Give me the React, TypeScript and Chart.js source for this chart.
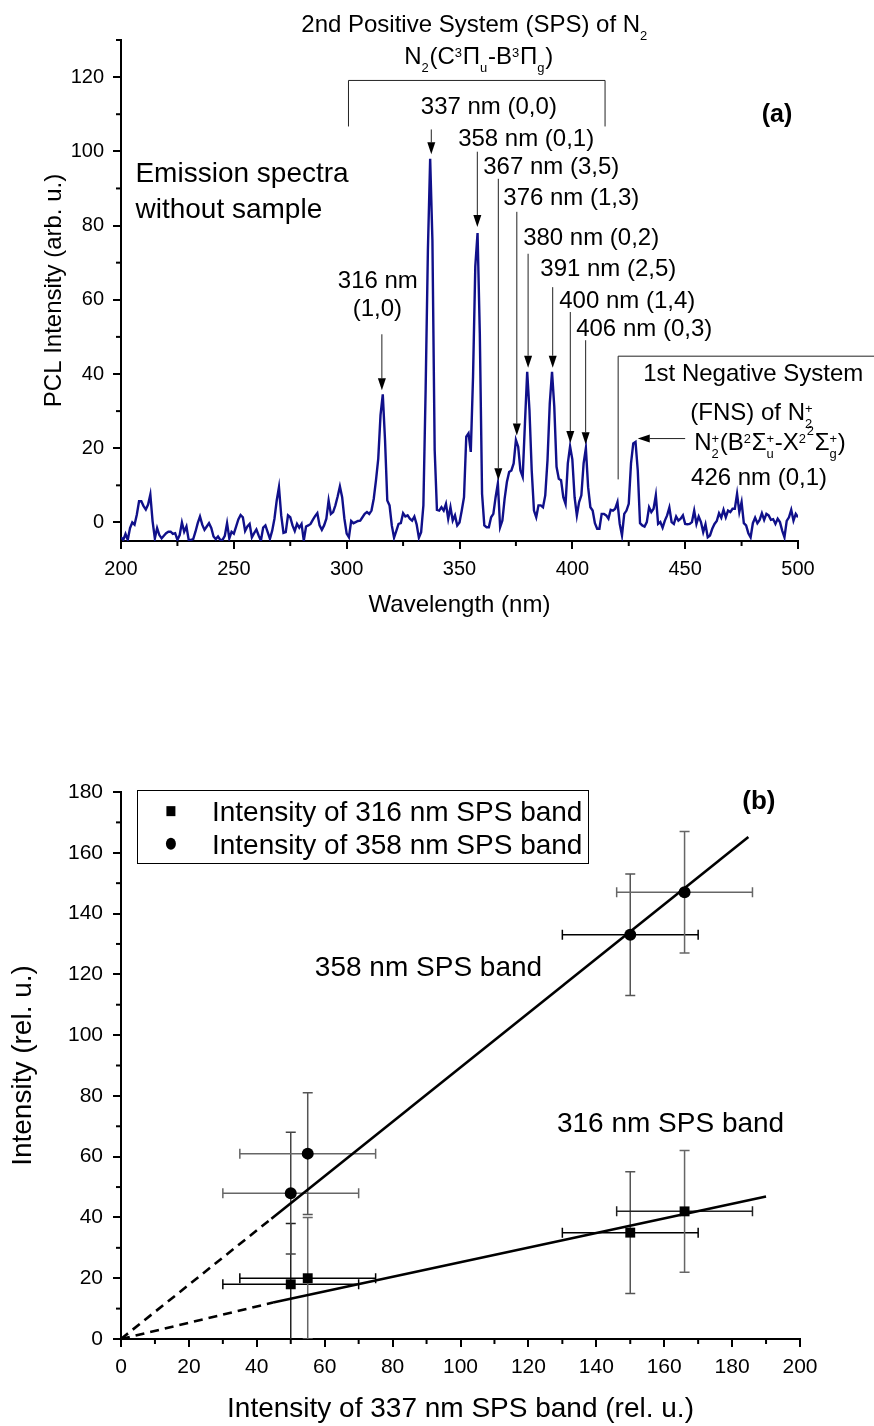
import React, { useEffect, useRef } from 'react';
import { Chart, registerables } from 'chart.js';

Chart.register(...registerables);

const FONT = "'Liberation Sans', Arial, Helvetica, sans-serif";
Chart.defaults.font.family = FONT;
Chart.defaults.color = '#000';

// ---------------- Panel (a): emission spectrum ----------------
const wavelengthStart = 200; // nm
const wavelengthStep = 1; // nm
const intensity: number[] = [
  -4, -4.7, -3.1, -4.7, -1.5, 0, -0.6, 2.1, 5.7, 5.7,
  4.4, 3.5, 4.8, 7.5, 0.3, -4.3, -1.5, -3.4, -4.3, -3.6,
  -2.9, -2.5, -2.5, -3.1, -2.9, -4.7, -3.4, 0, -2.5, -1.1,
  -4.7, -4.7, -4.5, -2.5, -0.2, 1.6, -0.6, -2, -1.1, -0.2,
  -1.5, -3.8, -4.5, -3.8, -4.7, -4.7, -3.6, -0.2, -4.3, -2.5,
  -3, -1.1, 0.8, 2.0, 1.4, -2.3, -1.1, -0.4, -4.0, -2.9,
  -1.9, -3.5, -4.9, -1.4, -0.8, -2.6, -4.4, -2.2, 1.0, 5.9,
  9.5, 1.9, -2.8, -2.6, 1.9, 1.4, -0.8, -2.3, -0.4, -1.4,
  -0.4, -4.9, -1.1, -0.8, -0.4, 0.7, 1.7, 2.5, -0.8, -2.0,
  -0.8, 1.0, 5.9, 2.3, 2.8, 4.6, 7.0, 9.7, 6.8, 1.0,
  -3, -4.0, 0.4, -0.2, 0.1, 0.4, 0.5, 1.4, 2.3, 2.8,
  2.3, 3.2, 6.4, 11.4, 17.2, 28.9, 34.5, 22.2, 5.9, 4.6,
  -0.8, -4.1, -2.3, -0.4, -0.2, 2.5, 1.6, 1.9, 1.0, 0.5,
  1.6, -0.5, -4.1, -2.6, 4.6, 36, 73.5, 98, 76, 19.5,
  3.4, 3.2, 4.1, 3.2, 5.0, 1.0, 4.1, 0.5, 1.9, -0.8,
  0, 3.2, 6.8, 23.1, 24.0, 19.0, 39.3, 69, 78, 51,
  7.7, -0.8, -1.3, -1.3, 1.4, 2.3, 6.8, 10.5, -1.3, 0.5,
  6.4, 10.9, 13.6, 14, 15.9, 22.2, 20.4, 14, 12.3, 26.7,
  40.6, 30.3, 14, 3.2, 1.4, 4.6, 4.6, 4.1, 7.3, 16.8,
  32, 40.6, 31.2, 15, 11.8, 11.4, 6.8, 5, 15.9, 20.5,
  17, 6.8, 1.9, 5.5, 7.3, 15.9, 20, 9.5, 4.1, 3.2,
  -0.2, -1.7, -1.7, 2.3, 2.3, 1.9, 1, 3.4, 3.2, 3.7,
  5.5, -0.4, -3.5, 2.3, 3.2, 5, 15.9, 21.3, 21.7, 14,
  -0.2, -0.8, -1.1, 0.1, 4.1, 2.8, 3.7, 7.3, -0.4, 0.1,
  -1.4, 0.5, 1.9, 4, 0.1, -0.4, 1.6, 0.5, 1, 1.9,
  -0.4, -0.5, -0.4, 0.1, 3.2, -0.4, 1.6, 0.1, -2.6, -0.5,
  -4.0, -3.5, -1.7, -0.4, 0.4, 2.5, 1.3, 3.4, 1.4, 3.2,
  2.8, 3.7, 3.7, 7.7, 2.8, 5.5, -0.2, -0.8, -2.9, -4.0,
  -0.2, 1.3, -0.2, 0.7, 2.5, 0.7, 2.3, 1.9, 0.7, 0.9,
  -0.4, 1, 0.1, -2.2, -4, 0.4, 1.4, 3.4, 0.5, 2.3, 1.4,
];

// ---------------- Panel (b): band intensities ----------------
const band337 = [50, 55, 150, 166];
const band337Err = [20, 20, 20, 20];
const band316 = [18, 20, 35, 42];
const band316Err = [20, 20, 20, 20];
const band358 = [48, 61, 133, 147];
const band358Err = [20, 20, 20, 20];
const fit316X = [0, 44.8, 190];
const fit316Y = [0, 12, 46.9];
const fit358X = [0, 44.3, 184.8];
const fit358Y = [0, 39.6, 165.2];
const legendLabels = ['Intensity of 316 nm SPS band', 'Intensity of 358 nm SPS band'];

type Piece = string | { sup?: string; sub?: string; up?: number };
type TextItem = { x: number; y: number; size: number; pieces: Piece[]; align?: 'left' | 'center'; bold?: boolean };

function drawRich(ctx: CanvasRenderingContext2D, pieces: Piece[], x: number, yc: number, size: number, align: 'left' | 'center' = 'left', bold = false) {
  const w = bold ? 'bold ' : '';
  const main = `${w}${size}px ${FONT}`;
  const small = `${w}${size * 0.54}px ${FONT}`;
  const widths = pieces.map((p) => {
    if (typeof p === 'string') {
      ctx.font = main;
      return ctx.measureText(p).width;
    }
    ctx.font = small;
    return Math.max(p.sup ? ctx.measureText(p.sup).width : 0, p.sub ? ctx.measureText(p.sub).width : 0) + size * 0.03;
  });
  const total = widths.reduce((a, b) => a + b, 0);
  let cx = align === 'center' ? x - total / 2 : x;
  const base = yc + size * 0.36;
  ctx.textAlign = 'left';
  ctx.textBaseline = 'alphabetic';
  ctx.fillStyle = '#000';
  pieces.forEach((p, i) => {
    if (typeof p === 'string') {
      ctx.font = main;
      ctx.fillText(p, cx, base);
    } else {
      ctx.font = small;
      if (p.sup) ctx.fillText(p.sup, cx, base - size * (0.3 + (p.up || 0)));
      if (p.sub) ctx.fillText(p.sub, cx, base + size * 0.34);
    }
    cx += widths[i];
  });
}

function drawArrow(ctx: CanvasRenderingContext2D, x1: number, y1: number, x2: number, y2: number) {
  const ang = Math.atan2(y2 - y1, x2 - x1);
  const L = 12;
  const W = 4;
  const bx = x2 - L * Math.cos(ang);
  const by = y2 - L * Math.sin(ang);
  ctx.strokeStyle = '#222';
  ctx.lineWidth = 1;
  ctx.beginPath();
  ctx.moveTo(x1, y1);
  ctx.lineTo(bx, by);
  ctx.stroke();
  ctx.fillStyle = '#000';
  ctx.beginPath();
  ctx.moveTo(x2, y2);
  ctx.lineTo(bx + W * Math.sin(ang), by - W * Math.cos(ang));
  ctx.lineTo(bx - W * Math.sin(ang), by + W * Math.cos(ang));
  ctx.closePath();
  ctx.fill();
}

function makeAnnotPlugin(cfg: { texts: TextItem[]; arrows?: number[][]; lines?: number[][][] }) {
  return {
    id: 'annot',
    afterDraw(chart: any) {
      const ctx = chart.ctx as CanvasRenderingContext2D;
      const X = (v: number) => chart.scales.x.getPixelForValue(v);
      const Y = (v: number) => chart.scales.y.getPixelForValue(v);
      ctx.save();
      ctx.strokeStyle = '#222';
      ctx.lineWidth = 1;
      for (const pl of cfg.lines || []) {
        ctx.beginPath();
        pl.forEach(([a, b], i) => (i ? ctx.lineTo(X(a), Y(b)) : ctx.moveTo(X(a), Y(b))));
        ctx.stroke();
      }
      for (const ar of cfg.arrows || []) drawArrow(ctx, X(ar[0]), Y(ar[1]), X(ar[2]), Y(ar[3]));
      for (const t of cfg.texts) drawRich(ctx, t.pieces, X(t.x), Y(t.y), t.size, t.align || 'left', !!t.bold);
      ctx.restore();
    },
  };
}

function makeMinorTicks(steps: Record<string, number>) {
  return {
    id: 'minorTicks',
    afterDraw(chart: any) {
      const ctx = chart.ctx as CanvasRenderingContext2D;
      ctx.save();
      ctx.strokeStyle = '#000';
      ctx.lineWidth = 2;
      for (const id of Object.keys(steps)) {
        const s = chart.scales[id];
        const step = steps[id];
        const start = Math.ceil(s.min / step) * step;
        for (let v = start; v <= s.max + 1e-9; v += step) {
          if (s.ticks.some((t: any) => Math.abs(t.value - v) < 1e-9)) continue;
          const p = s.getPixelForValue(v);
          ctx.beginPath();
          if (s.isHorizontal()) {
            ctx.moveTo(p, s.top);
            ctx.lineTo(p, s.top + 5);
          } else {
            ctx.moveTo(s.right, p);
            ctx.lineTo(s.right - 5, p);
          }
          ctx.stroke();
        }
      }
      ctx.restore();
    },
  };
}

const annotA = makeAnnotPlugin({
  lines: [
    [[300.8, 106.7], [300.8, 119.1], [414.5, 119.1], [414.5, 106.7]],
    [[420.3, 11.6], [420.3, 44.8], [534, 44.8]],
  ],
  arrows: [
    [315.6, 50.7, 315.6, 35.6],
    [337.5, 105.9, 337.5, 99.2],
    [357.9, 99.9, 357.9, 79.6],
    [367.2, 92.6, 367.2, 11.4],
    [375.4, 83.7, 375.4, 23.4],
    [380.4, 72.4, 380.4, 41.7],
    [391.3, 63.4, 391.3, 41.7],
    [399.1, 56.7, 399.1, 21.4],
    [405.9, 49.1, 405.9, 21.1],
    [450, 22.6, 429.0, 22.6],
  ],
  texts: [
    { x: 279.9, y: 134.5, size: 24, pieces: ['2nd Positive System (SPS) of N', { sub: '2' }] },
    { x: 325.5, y: 125.9, size: 24, pieces: ['N', { sub: '2' }, '(C', { sup: '3' }, 'Π', { sub: 'u' }, '-B', { sup: '3' }, 'Π', { sub: 'g' }, ')'] },
    { x: 206.4, y: 94.5, size: 28, pieces: ['Emission spectra'] },
    { x: 206.4, y: 84.7, size: 28, pieces: ['without sample'] },
    { x: 313.8, y: 65.6, size: 24, pieces: ['316 nm'], align: 'center' },
    { x: 313.6, y: 58, size: 24, pieces: ['(1,0)'], align: 'center' },
    { x: 363, y: 112.4, size: 24, pieces: ['337 nm (0,0)'], align: 'center' },
    { x: 349.4, y: 103.7, size: 24, pieces: ['358 nm (0,1)'] },
    { x: 360.5, y: 96.1, size: 24, pieces: ['367 nm (3,5)'] },
    { x: 369.4, y: 87.8, size: 24, pieces: ['376 nm (1,3)'] },
    { x: 378.2, y: 77.2, size: 24, pieces: ['380 nm (0,2)'] },
    { x: 385.8, y: 68.8, size: 24, pieces: ['391 nm (2,5)'] },
    { x: 394.2, y: 60.2, size: 24, pieces: ['400 nm (1,4)'] },
    { x: 401.7, y: 52.6, size: 24, pieces: ['406 nm (0,3)'] },
    { x: 431.4, y: 40.5, size: 24, pieces: ['1st Negative System'] },
    { x: 452.3, y: 29.9, size: 24, pieces: ['(FNS) of N', { sup: '+', sub: '2' }] },
    {
      x: 454, y: 21.9, size: 24,
      pieces: ['N', { sup: '+', sub: '2' }, '(B', { sup: '2' }, 'Σ', { sup: '+', sub: 'u' }, '-X', { sup: '2' }, { sup: '2', up: 0.3 }, 'Σ', { sup: '+', sub: 'g' }, ')'],
    },
    { x: 452.6, y: 12.4, size: 24, pieces: ['426 nm (0,1)'] },
    { x: 490.7, y: 110.2, size: 25, pieces: ['(a)'], align: 'center', bold: true },
  ],
});

const annotB = makeAnnotPlugin({
  texts: [
    { x: 187.9, y: 177.5, size: 26, pieces: ['(b)'], align: 'center', bold: true },
    { x: 57.1, y: 122.8, size: 28, pieces: ['358 nm SPS band'] },
    { x: 128.4, y: 71.5, size: 28, pieces: ['316 nm SPS band'] },
  ],
});

const errorBarsB = {
  id: 'errorBars',
  beforeDatasetsDraw(chart: any) {
    const ctx = chart.ctx as CanvasRenderingContext2D;
    const xs = chart.scales.x;
    const ys = chart.scales.y;
    const a = chart.chartArea;
    const series = [
      { y: band316, yErr: band316Err, xCol: ['#000', '#000', '#000', '#222'], yCol: ['#222', '#666', '#555', '#666'] },
      { y: band358, yErr: band358Err, xCol: ['#666', '#666', '#000', '#666'], yCol: ['#444', '#555', '#555', '#666'] },
    ];
    const cap = 5;
    ctx.save();
    ctx.beginPath();
    ctx.rect(a.left, a.top, a.right - a.left, a.bottom - a.top);
    ctx.clip();
    ctx.lineWidth = 1.5;
    for (const s of series) {
      band337.forEach((xv, i) => {
        const px = xs.getPixelForValue(xv);
        const py = ys.getPixelForValue(s.y[i]);
        const x1 = xs.getPixelForValue(xv - band337Err[i]);
        const x2 = xs.getPixelForValue(xv + band337Err[i]);
        const y1 = ys.getPixelForValue(s.y[i] - s.yErr[i]);
        const y2 = ys.getPixelForValue(s.y[i] + s.yErr[i]);
        ctx.strokeStyle = s.yCol[i];
        ctx.beginPath();
        ctx.moveTo(px, y1); ctx.lineTo(px, y2);
        ctx.moveTo(px - cap, y1); ctx.lineTo(px + cap, y1);
        ctx.moveTo(px - cap, y2); ctx.lineTo(px + cap, y2);
        ctx.stroke();
        ctx.strokeStyle = s.xCol[i];
        ctx.beginPath();
        ctx.moveTo(x1, py); ctx.lineTo(x2, py);
        ctx.moveTo(x1, py - cap); ctx.lineTo(x1, py + cap);
        ctx.moveTo(x2, py - cap); ctx.lineTo(x2, py + cap);
        ctx.stroke();
      });
    }
    ctx.restore();
  },
};

const legendB = {
  id: 'legendB',
  afterDraw(chart: any) {
    const ctx = chart.ctx as CanvasRenderingContext2D;
    const X = (v: number) => chart.scales.x.getPixelForValue(v);
    const Y = (v: number) => chart.scales.y.getPixelForValue(v);
    ctx.save();
    const l = X(4.7), r = X(137.6), t = Y(180.8), b = Y(156.7);
    ctx.fillStyle = '#fff';
    ctx.fillRect(l, t, r - l, b - t);
    ctx.strokeStyle = '#000';
    ctx.lineWidth = 1;
    ctx.strokeRect(Math.round(l) + 0.5, Math.round(t) + 0.5, Math.round(r - l), Math.round(b - t));
    const mx = X(14.7);
    const r1 = Y(173.7), r2 = Y(163);
    ctx.fillStyle = '#000';
    ctx.fillRect(mx - 4.5, r1 - 5, 9, 10);
    ctx.beginPath();
    ctx.ellipse(mx, r2, 5, 6, 0, 0, Math.PI * 2);
    ctx.fill();
    drawRich(ctx, [legendLabels[0]], X(26.8), r1, 28);
    drawRich(ctx, [legendLabels[1]], X(26.8), r2, 28);
    ctx.restore();
  },
};

function axis(min: number, max: number, step: number, titleText: string, titleSize: number, tickSize: number, tickPad: number, titlePad: any, fit: (s: any) => void) {
  return {
    type: 'linear' as const,
    min,
    max,
    ticks: { stepSize: step, includeBounds: false, autoSkip: false, maxRotation: 0, padding: tickPad, color: '#000', font: { family: FONT, size: tickSize } },
    grid: { display: true, drawOnChartArea: false, drawTicks: true, tickLength: 8, color: '#000', lineWidth: 2 },
    border: { display: true, color: '#000', width: 2 },
    title: { display: true, text: titleText, color: '#000', font: { family: FONT, size: titleSize }, padding: titlePad },
    afterFit: fit,
  };
}

export default function App() {
  const refA = useRef<HTMLCanvasElement>(null);
  const refB = useRef<HTMLCanvasElement>(null);

  useEffect(() => {
    const spectrum = intensity.map((v, i) => ({ x: wavelengthStart + i * wavelengthStep, y: v }));
    const chartA = new Chart(refA.current as HTMLCanvasElement, {
      type: 'line',
      data: {
        datasets: [
          { data: spectrum, borderColor: '#10108a', borderWidth: 2.4, pointRadius: 0, tension: 0, fill: false },
        ],
      },
      options: {
        responsive: false,
        animation: false,
        layout: { padding: { left: 0, right: 76, top: 40, bottom: 0 } },
        plugins: { legend: { display: false }, tooltip: { enabled: false } },
        scales: {
          x: axis(200, 500, 50, 'Wavelength (nm)', 24, 20, 8, { top: 0, bottom: 30 }, (s) => { s.height = 109; }),
          y: axis(-5, 130, 20, 'PCL Intensity (arb. u.)', 24, 20, 9, { top: 40, bottom: 0 }, (s) => { s.width = 121; }),
        },
      } as any,
      plugins: [makeMinorTicks({ x: 25, y: 10 }), annotA],
    });

    const pts316 = band337.map((x, i) => ({ x, y: band316[i] }));
    const pts358 = band337.map((x, i) => ({ x, y: band358[i] }));
    const line316 = fit316X.map((x, i) => ({ x, y: fit316Y[i] }));
    const line358 = fit358X.map((x, i) => ({ x, y: fit358Y[i] }));
    const dashFirst = { borderDash: (c: any) => (c.p0DataIndex === 0 ? [9, 6] : undefined) };
    const chartB = new Chart(refB.current as HTMLCanvasElement, {
      type: 'scatter',
      data: {
        datasets: [
          { label: legendLabels[0], data: pts316, pointStyle: 'rect', pointRadius: 7, backgroundColor: '#000', borderColor: '#000', borderWidth: 0 },
          { label: legendLabels[1], data: pts358, pointStyle: 'circle', pointRadius: 6, backgroundColor: '#000', borderColor: '#000', borderWidth: 0 },
          { label: 'fit316', data: line316, showLine: true, pointRadius: 0, borderColor: '#000', borderWidth: 2.6, segment: dashFirst },
          { label: 'fit358', data: line358, showLine: true, pointRadius: 0, borderColor: '#000', borderWidth: 2.6, segment: dashFirst },
        ],
      },
      options: {
        responsive: false,
        animation: false,
        layout: { padding: { left: 0, right: 74, top: 92, bottom: 0 } },
        plugins: { legend: { display: false }, tooltip: { enabled: false } },
        scales: {
          x: axis(0, 200, 20, 'Intensity of 337 nm SPS band (rel. u.)', 28, 21, 8, { top: 0, bottom: 0 }, (s) => { s.height = 87; }),
          y: axis(0, 180, 20, 'Intensity (rel. u.)', 28, 21, 10, { top: 6, bottom: 0 }, (s) => { s.width = 121; }),
        },
      } as any,
      plugins: [errorBarsB, makeMinorTicks({ x: 10, y: 10 }), annotB, legendB],
    });

    return () => {
      chartA.destroy();
      chartB.destroy();
    };
  }, []);

  return (
    <div style={{ position: 'absolute', left: 0, top: 0, width: 874, height: 1426, background: '#fff', overflow: 'hidden' }}>
      <canvas ref={refA} width={874} height={650} style={{ position: 'absolute', left: 0, top: 0 }} />
      <canvas ref={refB} width={874} height={726} style={{ position: 'absolute', left: 0, top: 700 }} />
    </div>
  );
}
